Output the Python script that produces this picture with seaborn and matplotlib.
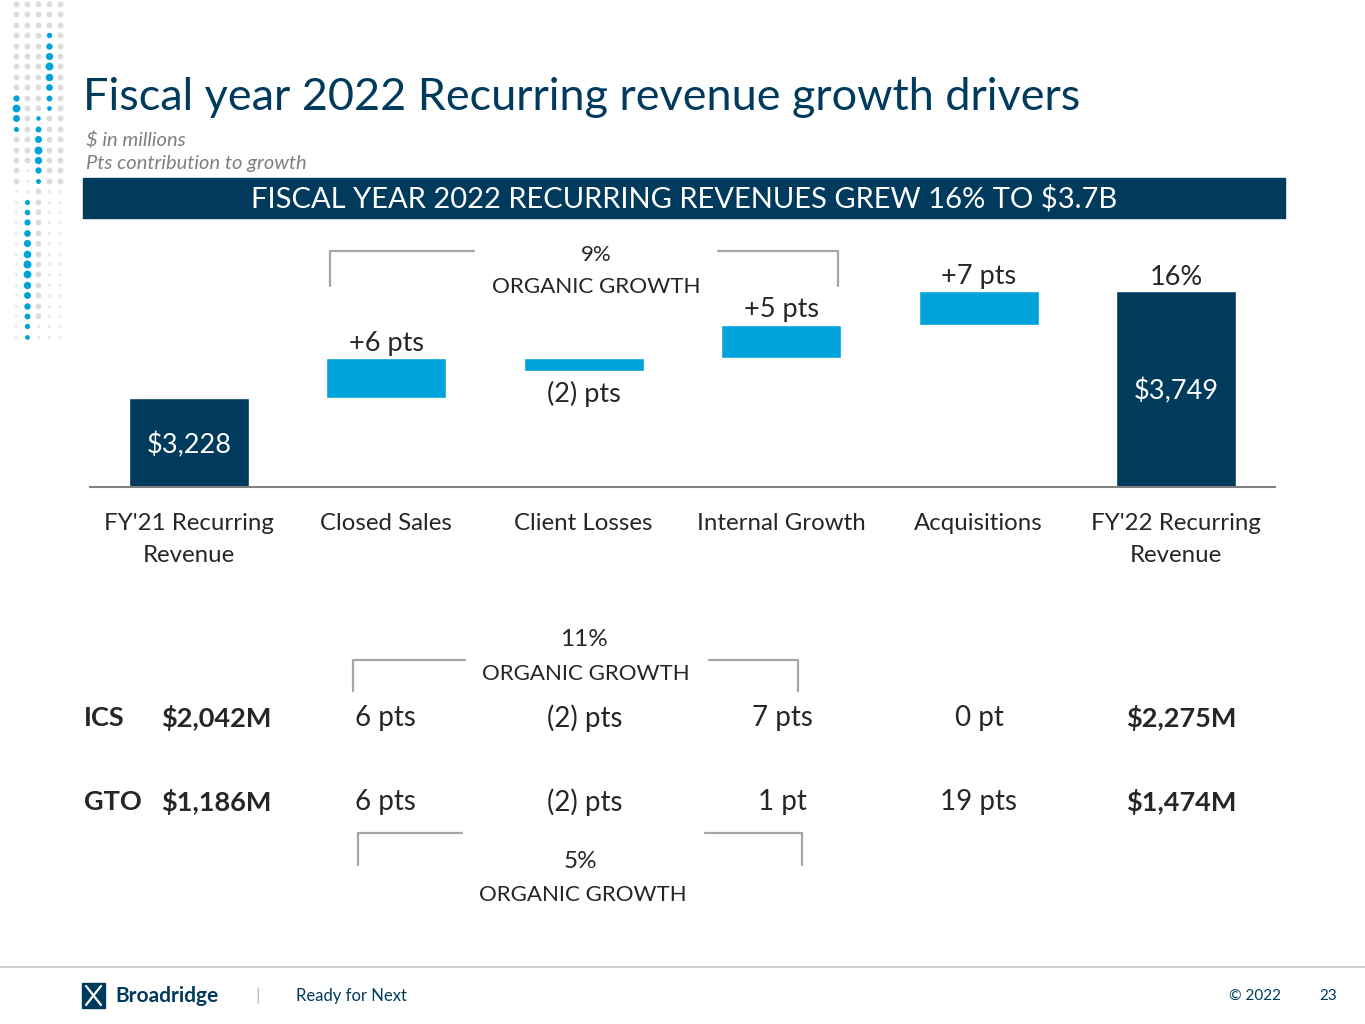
import matplotlib.pyplot as plt
import seaborn as sns
from matplotlib.patches import Rectangle

# waterfall data ($M), y axis of the chart starts at 2800
categories = ["FY'21 Recurring\nRevenue", "Closed Sales", "Client Losses",
              "Internal Growth", "Acquisitions", "FY'22 Recurring\nRevenue"]
bar_low = [0, 3228, 3359, 3422, 3585, 0]
bar_high = [3228, 3422, 3422, 3585, 3749, 3749]
is_total = [True, False, False, False, False, True]
bar_labels = ["$3,228", "+6 pts", "(2) pts", "+5 pts", "+7 pts", "$3,749"]
fy22_growth = "16%"
organic_total = "9%"

# segment table
segments = ["ICS", "GTO"]
seg_fy21 = ["$2,042M", "$1,186M"]
seg_closed = ["6 pts", "6 pts"]
seg_losses = ["(2) pts", "(2) pts"]
seg_internal = ["7 pts", "1 pt"]
seg_acq = ["0 pt", "19 pts"]
seg_fy22 = ["$2,275M", "$1,474M"]
seg_organic = ["11%", "5%"]

NAVY = "#003A5D"
BLUE = "#00A3D9"
GRAY = "#A6A6A6"

sns.set_style("white")
plt.rcParams["font.family"] = ["Lato", "DejaVu Sans"]

W, H = 1365, 1024
fig = plt.figure(figsize=(W / 100, H / 100), dpi=100)

# page overlay in pixel coords
pg = fig.add_axes([0, 0, 1, 1])
pg.set_xlim(0, W)
pg.set_ylim(H, 0)
pg.axis("off")

# decorative dot columns on the left
dot_x = [16, 27, 38, 49, 60]
blue_runs = [(89, 131), (192, 341), (118, 184), (27, 110), (0, 0)]
gray_end = [190, 170, 320, 183, 183]
for cx, (b0, b1), gend in zip(dot_x, blue_runs, gray_end):
    y = 4.0
    while y < 345:
        if b0 <= y <= b1:
            mid = (b0 + b1) / 2
            s = 34 - 24 * abs(y - mid) / ((b1 - b0) / 2 + 1)
            pg.scatter(cx, y, s=s, color=BLUE, lw=0)
        elif y <= gend:
            pg.scatter(cx, y, s=18, color="#DCDCDC", lw=0)
        else:
            pg.scatter(cx, y, s=6, color="#EBEBEB", lw=0)
        y += 10.4

pg.text(83, 98, "Fiscal year 2022 Recurring revenue growth drivers",
        fontsize=32.4, color=NAVY, va="center", ha="left")
pg.text(86, 140, "$ in millions", fontsize=14.5, style="italic",
        color="#7F7F7F", va="center")
pg.text(86, 164, "Pts contribution to growth", fontsize=14.5, style="italic",
        color="#7F7F7F", va="center")
pg.add_patch(Rectangle((83, 178), 1202, 40, color=NAVY))
pg.text(684, 199, "FISCAL YEAR 2022 RECURRING REVENUES GREW 16% TO $3.7B",
        fontsize=21, color="white", ha="center", va="center")

# waterfall chart
ax = fig.add_axes([90 / W, 1 - 486.5 / H, 1185 / W, 256.5 / H])
ax.patch.set_alpha(0)
heights = [hi - lo for lo, hi in zip(bar_low, bar_high)]
tot_idx = [i for i in range(6) if is_total[i]]
step_idx = [i for i in range(6) if not is_total[i]]
sns.barplot(x=[categories[i] for i in tot_idx], y=[heights[i] for i in tot_idx],
            order=categories, color=NAVY, saturation=1, width=0.61,
            errorbar=None, bottom=[bar_low[i] for i in tot_idx], ax=ax)
sns.barplot(x=[categories[i] for i in step_idx], y=[heights[i] for i in step_idx],
            order=categories, color=BLUE, saturation=1, width=0.61,
            errorbar=None, bottom=[bar_low[i] for i in step_idx], ax=ax)
ax.set_xlim(-0.5, 5.5)
ax.set_ylim(2800, 2800 + 256.5 / 0.206)
ax.set_xlabel("")
ax.set_ylabel("")
ax.set_yticks([])
for s in ["top", "left", "right"]:
    ax.spines[s].set_visible(False)
ax.spines["bottom"].set_color("#808080")
ax.spines["bottom"].set_linewidth(1.5)
ax.set_xticks(range(6))
ax.set_xticklabels(categories, fontsize=17.3, linespacing=1.68)
ax.tick_params(axis="x", which="major", length=0, pad=19)
ax.set_xticks([i - 0.5 for i in range(7)], minor=True)
ax.tick_params(axis="x", which="minor", length=8, width=1.5, color="#808080",
               direction="out")

for i in range(6):
    lo, hi = max(bar_low[i], 2800), bar_high[i]
    if is_total[i]:
        ax.text(i, (lo + hi) / 2 - 12, bar_labels[i], ha="center", va="center",
                color="white", fontsize=19.5)
    elif i == 2:
        ax.text(i, lo - 45, bar_labels[i], ha="center", va="top", fontsize=19.5)
    else:
        ax.text(i, hi + 12, bar_labels[i], ha="center", va="bottom", fontsize=19.5)
ax.text(5, bar_high[5] + 6, fy22_growth, ha="center", va="bottom", fontsize=19.5)

# organic growth bracket over the chart
def bracket(x0, x1, xa, xb, ytop, ybot, down=True):
    ya, yb = (ytop, ybot) if down else (ybot, ytop)
    pg.plot([x0, x0, xa], [yb, ya, ya], color=GRAY, lw=1.6)
    pg.plot([xb, x1, x1], [ya, ya, yb], color=GRAY, lw=1.6)

bracket(330, 838, 474, 718, 251, 286)
pg.text(596, 255, organic_total, fontsize=16, ha="center", va="center")
pg.text(596, 287, "ORGANIC GROWTH", fontsize=16.1, ha="center", va="center")

# segment table
col_x = [385, 585, 782, 979, 1181]
row_y = [718, 802]
for r in range(2):
    y = row_y[r]
    pg.text(84, y, segments[r], fontsize=19.5, weight="bold", ha="left", va="center")
    pg.text(271, y, seg_fy21[r], fontsize=19.5, weight="bold", ha="right", va="center")
    vals = [seg_closed[r], seg_losses[r], seg_internal[r], seg_acq[r]]
    for cx, v in zip(col_x, vals):
        pg.text(cx, y, v, fontsize=20, ha="center", va="center")
    pg.text(col_x[4], y, seg_fy22[r], fontsize=19.5, weight="bold",
            ha="center", va="center")

bracket(353, 798, 465, 709, 660, 691)
pg.text(584, 640, seg_organic[0], fontsize=17.5, ha="center", va="center")
pg.text(586, 674, "ORGANIC GROWTH", fontsize=16, ha="center", va="center")
bracket(358, 802, 462, 705, 865, 833, down=False)
pg.text(580, 861, seg_organic[1], fontsize=17.5, ha="center", va="center")
pg.text(583, 895, "ORGANIC GROWTH", fontsize=16, ha="center", va="center")

# footer
pg.plot([0, W], [967, 967], color="#D0D0D0", lw=1.5)
pg.add_patch(Rectangle((82, 983), 23, 25, color=NAVY))
pg.plot([86, 101], [986, 1005], color="white", lw=1.6)
pg.plot([101, 86], [986, 1005], color="white", lw=1.6)
pg.text(115, 996, "Broadridge", fontsize=15, weight="bold", color=NAVY, va="center")
pg.text(258, 996, "|", fontsize=13, color="#BBBBBB", ha="center", va="center")
pg.text(296, 996, "Ready for Next", fontsize=12, color=NAVY, va="center")
pg.text(1255, 996, "\u00a9 2022", fontsize=11, color=NAVY, ha="center", va="center")
pg.text(1328, 996, "23", fontsize=11, color=NAVY, ha="center", va="center")

fig.savefig("out.png", dpi=100, facecolor="white")
